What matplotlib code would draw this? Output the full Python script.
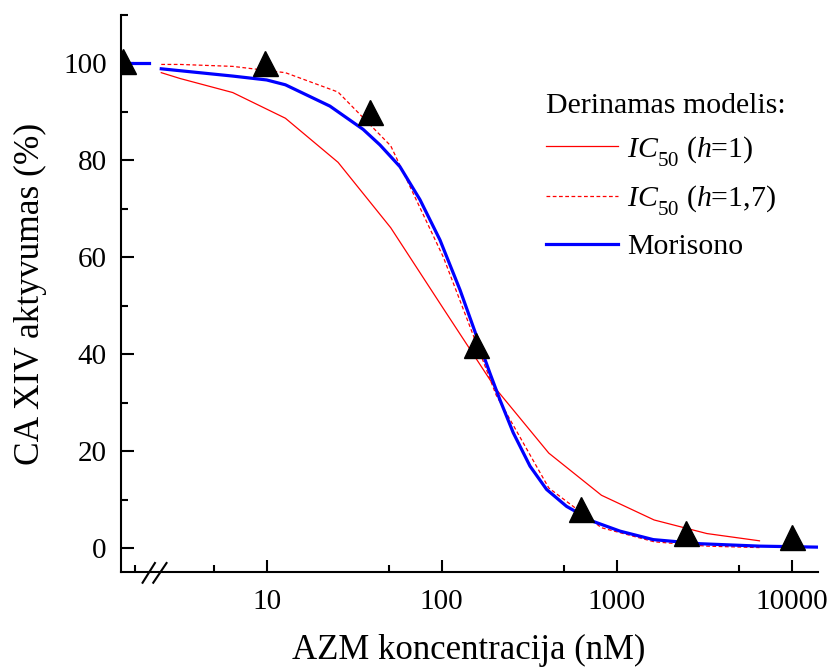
import numpy as np
import matplotlib
matplotlib.use("Agg")
import matplotlib.pyplot as plt
from matplotlib.lines import Line2D

plt.rcParams['font.family'] = ['Liberation Serif', 'DejaVu Serif']
plt.rcParams['mathtext.fontset'] = 'custom'
plt.rcParams['mathtext.rm'] = 'Liberation Serif'
plt.rcParams['mathtext.it'] = 'Liberation Serif:italic'

# subscripts sit lower in the original
try:
    from matplotlib import _mathtext
    _mathtext.FontConstantsBase.sub1 = 0.7
    _mathtext.FontConstantsBase.sub2 = 0.85
except Exception:
    pass

# measured activity (first point = 0 nM, drawn left of the axis break)
conc = [1.52, 9.77, 39.06, 156.25, 625, 2500, 10000]
activity = [100.5, 100.0, 90.0, 42.0, 8.0, 3.2, 2.3]

# IC50 fits (red)
fit_x = [2.5, 3.2, 6.4, 12.8, 25.6, 51.2, 102.4, 204.8, 409.6, 819.2, 1638.4, 3276.8, 6553.6]
ic50_h1 = [98.1, 96.9, 94.0, 88.7, 79.6, 66.1, 49.4, 32.8, 19.6, 10.9, 5.8, 3.0, 1.5]
ic50_h17 = [99.8, 99.8, 99.4, 98.1, 94.1, 83.0, 60.0, 31.6, 12.4, 4.2, 1.3, 0.4, 0.1]

# Morisono fit (blue)
mor_x = [2.5, 6.4, 10, 12.8, 23, 35.6, 44.4, 57.8, 75.2, 97.8, 127.3, 158.5, 188.8,
         215.4, 256.6, 320, 398, 518, 735, 1045, 1618, 3000, 6590, 13900]
mor_y = [98.9, 97.4, 96.6, 95.6, 91.2, 86.4, 83.2, 78.7, 71.9, 63.6, 53.3, 43.7, 36.1,
         30.6, 23.8, 16.9, 12.1, 8.6, 5.5, 3.5, 1.75, 0.9, 0.4, 0.2]
mor_zero_x = [1.52, 2.12]
mor_zero_y = [100, 100]

fig = plt.figure(figsize=(8.33, 6.70), dpi=100)
ax = fig.add_axes([0.1449, 0.1458, 0.8367, 0.8318])

ax.plot(fit_x, ic50_h1, color='red', lw=0.9)
ax.plot(fit_x, ic50_h17, color='red', lw=0.9, ls=(0, (3, 2)))
ax.plot(mor_x, mor_y, color='blue', lw=2.3)
ax.plot(mor_zero_x, mor_zero_y, color='blue', lw=2.3)
ax.plot(conc, activity, ls='none', marker='^', ms=18, color='black')

ax.set_xscale('log')
ax.set_xlim(1.466, 14090)
ax.set_ylim(-5, 110)

ax.set_xticks([10, 100, 1000, 10000])
ax.set_xticklabels(['10', '100', '1000', '10000'])
ax.set_xticks([1.77, 5, 50, 500, 5000], minor=True)
ax.set_xticklabels([], minor=True)
ax.set_yticks(np.arange(0, 101, 20))
ax.set_yticks(np.arange(10, 111, 20), minor=True)

for s in ['top', 'right']:
    ax.spines[s].set_visible(False)
for s in ['left', 'bottom']:
    ax.spines[s].set_linewidth(1.5)
ax.tick_params(which='both', direction='in', width=1.5, labelsize=21)
ax.tick_params(which='major', length=9)
ax.tick_params(which='minor', length=5)
ax.tick_params(axis='x', pad=12)
ax.tick_params(axis='y', pad=10)

# axis break marks
tr = ax.get_xaxis_transform()
for x0, x1 in [(1.955, 2.30), (2.25, 2.68)]:
    ax.plot([x0, x1], [-0.0187, 0.0167], transform=tr, color='black', lw=1.5, clip_on=False)

ax.set_xlabel('AZM koncentracija (nM)', fontsize=25, labelpad=14)
ax.set_ylabel('CA XIV aktyvumas (%)', fontsize=25.5, labelpad=12)

handles = [Line2D([], [], color='red', lw=0.9),
           Line2D([], [], color='red', lw=0.9, ls=(0, (3, 2))),
           Line2D([], [], color='blue', lw=2.3)]
labels = [r'$\mathit{IC}_{\mathit{50}}$ ($h$=1)', r'$\mathit{IC}_{\mathit{50}}$ ($h$=1,7)', 'Morisono']
leg = ax.legend(handles, labels, title='Derinamas modelis:', frameon=False, fontsize=21.5,
                title_fontsize=21.5, alignment='left', loc='upper left',
                bbox_to_anchor=(546 / 833, 1 - 93 / 670), bbox_transform=fig.transFigure,
                borderpad=0, borderaxespad=0, handlelength=2.4, handletextpad=0.3,
                labelspacing=0.5)

fig.savefig('out.png', dpi=100)
